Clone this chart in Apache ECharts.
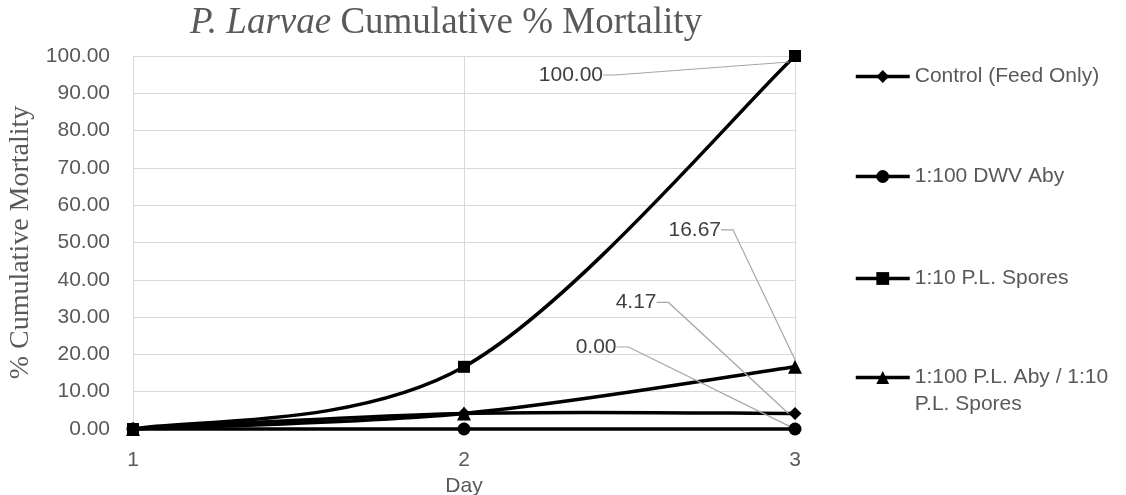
<!DOCTYPE html>
<html>
<head>
<meta charset="utf-8">
<script src="https://cdn.jsdelivr.net/npm/echarts@6/dist/echarts.min.js"></script>
<style>
  html, body { margin: 0; padding: 0; background: #fff; }
  #chart { width: 1126px; height: 495px; }
</style>
</head>
<body>
<div id="chart"></div>
<script>
// data
const days = ['1', '2', '3'];
const seriesNames = ['Control (Feed Only)', '1:100 DWV Aby', '1:10 P.L. Spores', '1:100 P.L. Aby / 1:10 P.L. Spores'];
const control = [0, 4.17, 4.17];
const dwvAby = [0, 0, 0];
const plSpores = [0, 16.67, 100];
const plAbySpores = [0, 4.17, 16.67];
const yTicks = { min: 0, max: 100, step: 10 };

// styling / layout
const markers = ['diamond', 'circle', 'rect', 'triangle'];
const markerSizes = [13, 13, 12, 14];
const labelOffsets = [[-119, -111], [-159, -82], [-173, 19], [-54, -137]];
const legendTops = [63, 163, 265, 337];

const grey = '#595959';
const sans = 'Liberation Sans';
const serif = 'Liberation Serif';

const chart = echarts.init(document.getElementById('chart'));

const allValues = [control, dwvAby, plSpores, plAbySpores];

// excel-like smoothed path through pixel points
function smoothPath(pts) {
  const dist = (a, b) => Math.hypot(b[0] - a[0], b[1] - a[1]);
  let d = 'M' + pts[0][0] + ' ' + pts[0][1];
  for (let i = 0; i < pts.length - 1; i++) {
    const p0 = pts[i - 1] || pts[i];
    const p1 = pts[i];
    const p2 = pts[i + 1];
    const p3 = pts[i + 2] || pts[i + 1];
    const d02 = dist(p0, p2), d12 = dist(p1, p2), d13 = dist(p1, p3);
    const f1 = (d02 / 6 < d12 / 2 || d02 === 0) ? 1 / 6 : d12 / (2 * d02);
    const f2 = (d13 / 6 < d12 / 2 || d13 === 0) ? 1 / 6 : d12 / (2 * d13);
    const c1 = [p1[0] + f1 * (p2[0] - p0[0]), p1[1] + f1 * (p2[1] - p0[1])];
    const c2 = [p2[0] - f2 * (p3[0] - p1[0]), p2[1] - f2 * (p3[1] - p1[1])];
    d += ' C' + c1[0] + ' ' + c1[1] + ' ' + c2[0] + ' ' + c2[1] + ' ' + p2[0] + ' ' + p2[1];
  }
  return d;
}

const curves = allValues.map((vals, si) => ({
  type: 'custom',
  name: 'curve' + si,
  z: 2,
  silent: true,
  data: vals.map((v, i) => [i, v]),
  encode: { x: 0, y: 1 },
  renderItem: (params, api) => {
    if (params.dataIndex !== 0) return;
    const pts = vals.map((v, i) => api.coord([i, v]));
    return {
      type: 'path',
      shape: { pathData: smoothPath(pts) },
      style: { fill: 'none', stroke: '#000', lineWidth: 3.5 }
    };
  }
}));

const lines = allValues.map((vals, si) => ({
  name: seriesNames[si],
  type: 'line',
  symbol: markers[si],
  symbolSize: markerSizes[si],
  color: '#000',
  lineStyle: { color: '#000', width: 3.5, opacity: 0 },
  itemStyle: { color: '#000' },
  z: 3 + si,
  data: vals.map((v, i) => ({
    value: v,
    label: { show: i === vals.length - 1 }
  })),
  label: {
    position: 'left',
    distance: 5,
    formatter: p => p.value.toFixed(2),
    fontFamily: sans,
    fontSize: 21,
    color: '#404040',
    padding: [0, 8, 0, 0]
  },
  labelLine: {
    show: true,
    length2: 12,
    smooth: false,
    lineStyle: { color: '#a6a6a6', width: 1.2 }
  },
  labelLayout: { dx: labelOffsets[si][0], dy: labelOffsets[si][1] }
}));

const legends = seriesNames.map((n, i) => ({
  data: [n],
  orient: 'vertical',
  left: 854,
  top: legendTops[i],
  padding: 0,
  itemWidth: 54,
  itemHeight: 16,
  selectedMode: false,
  lineStyle: { color: '#000', width: 3.5, opacity: 1 },
  formatter: name => i === 3 ? '\n' + name.replace(' / 1:10 ', ' / 1:10\n') : name,
  textStyle: { fontFamily: sans, fontSize: 21, color: grey, lineHeight: 27 }
}));

chart.setOption({
  animation: false,
  backgroundColor: '#fff',
  title: {
    text: '{i|P. Larvae} Cumulative % Mortality',
    left: 185,
    top: 0,
    textStyle: {
      fontFamily: serif,
      fontSize: 37,
      fontWeight: 'normal',
      color: grey,
      rich: {
        i: { fontFamily: serif, fontSize: 37, fontStyle: 'italic', color: grey }
      }
    }
  },
  legend: legends,
  grid: { left: 133, right: 331, top: 56, bottom: 66, containLabel: false, outerBoundsMode: 'none' },
  xAxis: {
    type: 'category',
    data: days,
    boundaryGap: false,
    name: 'Day',
    nameLocation: 'middle',
    nameGap: 39,
    nameTextStyle: { fontFamily: sans, fontSize: 21, color: grey },
    axisLine: { show: true, lineStyle: { color: '#d9d9d9', width: 1 } },
    axisTick: { show: false },
    axisLabel: { margin: 21, fontFamily: sans, fontSize: 21, color: grey },
    splitLine: { show: true, lineStyle: { color: '#d9d9d9', width: 1 } }
  },
  yAxis: {
    type: 'value',
    min: yTicks.min,
    max: yTicks.max,
    interval: yTicks.step,
    name: '% Cumulative Mortality',
    nameLocation: 'middle',
    nameGap: 96,
    nameTextStyle: { fontFamily: serif, fontSize: 28, color: grey },
    axisLine: { show: false },
    axisTick: { show: false },
    axisLabel: { margin: 23, fontFamily: sans, fontSize: 21, color: grey, formatter: v => v.toFixed(2) },
    splitLine: { show: true, lineStyle: { color: '#d9d9d9', width: 1 } }
  },
  series: curves.concat(lines)
});
</script>
</body>
</html>
